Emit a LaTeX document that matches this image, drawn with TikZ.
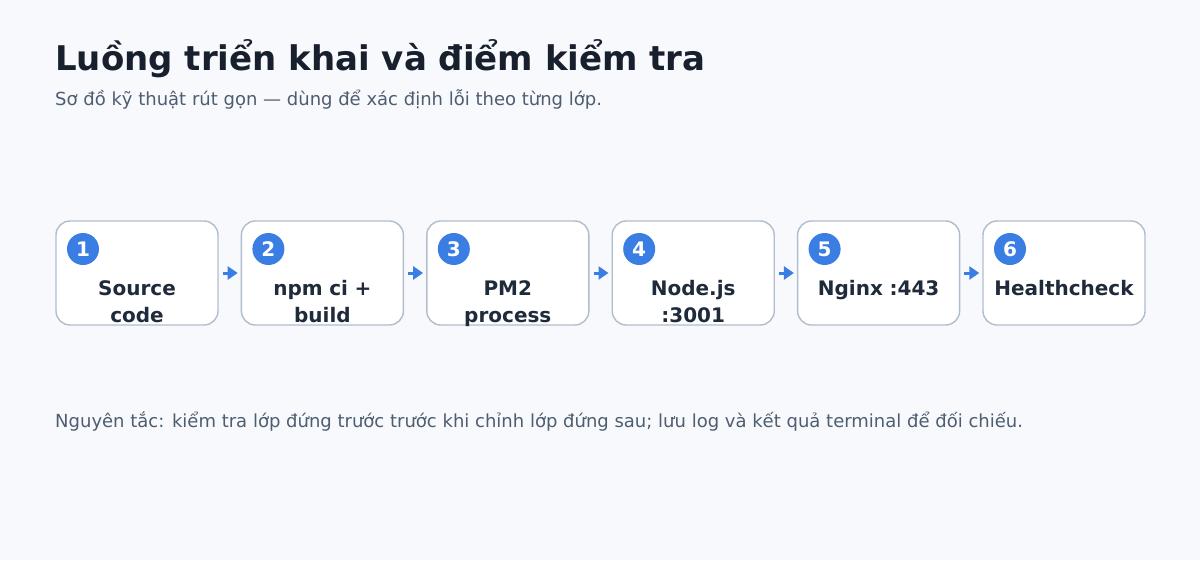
\documentclass[tikz,border=0pt]{standalone}
\usepackage{fontspec}
\setmainfont{DejaVu Sans}
\usetikzlibrary{arrows.meta}
\definecolor{pagebg}{HTML}{F7F9FC}
\definecolor{headink}{HTML}{18202E}
\definecolor{softink}{HTML}{4F5D70}
\definecolor{boxink}{HTML}{1F2A3B}
\definecolor{edge}{HTML}{B0BDCF}
\definecolor{accent}{HTML}{3A7EE4}
\begin{document}
\begin{tikzpicture}[x=1pt, y=-1pt,
    stage/.style={rectangle, rounded corners=14pt, draw=edge, line width=1.4pt, fill=white, minimum width=162pt, minimum height=104pt},
    badge/.style={circle, fill=accent, minimum size=32pt, inner sep=0pt, text=white, font=\bfseries\fontsize{20}{20}\selectfont},
    caption/.style={anchor=base, text width=160pt, align=center, inner sep=0pt, text=boxink, font=\bfseries\fontsize{20}{27}\selectfont},
    note/.style={anchor=base west, inner sep=0pt, text=softink, font=\fontsize{18}{21}\selectfont},
    flow/.style={-{Triangle[length=10pt, width=13pt]}, draw=accent, line width=3pt, shorten <=4pt, shorten >=3pt}]
    \fill[pagebg] (0, 0) rectangle (1200, 560);

    \node[anchor=base west, inner sep=0pt, text=headink, font=\bfseries\fontsize{34}{38}\selectfont] (title) at (55, 70) {Luồng triển khai và điểm kiểm tra};
    \node[note] (subtitle) at (55, 105) {Sơ đồ kỹ thuật rút gọn — dùng để xác định lỗi theo từng lớp.};

    \node[stage] (box-1) at (137, 273) {};
    \node[stage] (box-2) at (322.4, 273) {};
    \node[stage] (box-3) at (507.8, 273) {};
    \node[stage] (box-4) at (693.2, 273) {};
    \node[stage] (box-5) at (878.6, 273) {};
    \node[stage] (box-6) at (1064, 273) {};

    \node[badge] (n-1) at (83, 249) {1};
    \node[badge] (n-2) at (268.4, 249) {2};
    \node[badge] (n-3) at (453.8, 249) {3};
    \node[badge] (n-4) at (639.2, 249) {4};
    \node[badge] (n-5) at (824.6, 249) {5};
    \node[badge] (n-6) at (1010, 249) {6};

    \node[caption] (txt-1) at (137, 295) {Source\\code};
    \node[caption] (txt-2) at (322.4, 295) {npm ci +\\build};
    \node[caption] (txt-3) at (507.8, 295) {PM2\\process};
    \node[caption] (txt-4) at (693.2, 295) {Node.js\\:3001};
    \node[caption] (txt-5) at (878.6, 295) {Nginx :443};
    \node[caption] (txt-6) at (1064, 295) {Healthcheck};

    \draw[flow] (box-1) -- (box-2);
    \draw[flow] (box-2) -- (box-3);
    \draw[flow] (box-3) -- (box-4);
    \draw[flow] (box-4) -- (box-5);
    \draw[flow] (box-5) -- (box-6);

    \node[note] (footer) at (55, 427) {Nguyên tắc: kiểm tra lớp đứng trước trước khi chỉnh lớp đứng sau; lưu log và kết quả terminal để đối chiếu.};
\end{tikzpicture}
\end{document}
